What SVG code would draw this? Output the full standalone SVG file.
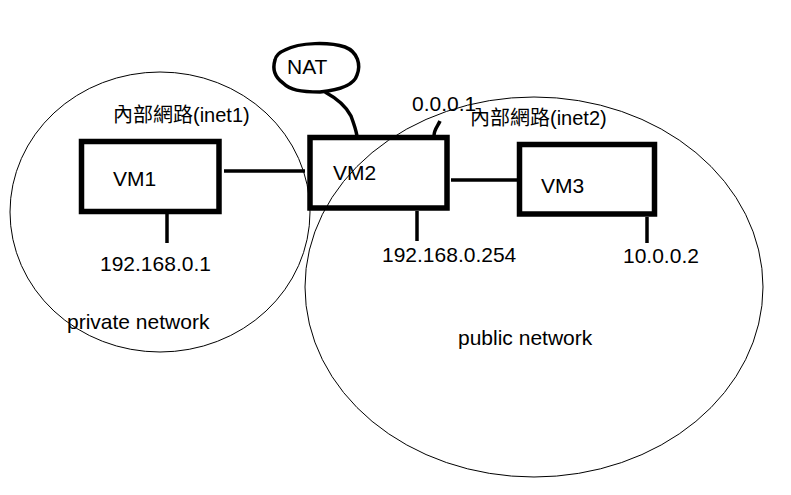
<svg xmlns="http://www.w3.org/2000/svg" width="791" height="495" viewBox="0 0 791 495">
<style>
text{font-family:"Liberation Sans","Noto Sans CJK TC",sans-serif;font-size:21px;fill:#000}
.net{fill:none;stroke:#000;stroke-width:1}
.box{fill:none;stroke:#000;stroke-width:5.5}
.wire{stroke:#000;stroke-width:3.5;fill:none}
</style>
<rect width="791" height="495" fill="#fff"/>
<g id="private-network">
<ellipse class="net" cx="160" cy="212" rx="150" ry="140"/>
<text x="113" y="122" style="font-size:20px">內部網路(inet1)</text>
<text x="67" y="329">private network</text>
</g>
<g id="public-network">
<ellipse class="net" cx="534" cy="287" rx="229" ry="190"/>
<text x="470" y="125" style="font-size:20px">內部網路(inet2)</text>
<text x="458" y="345">public network</text>
</g>
<g id="connectors">
<line class="wire" x1="224" y1="171" x2="305" y2="171"/>
<line class="wire" x1="451" y1="180" x2="517" y2="180"/>
<line class="wire" x1="167" y1="214" x2="167" y2="243"/>
<line class="wire" x1="417" y1="211" x2="417" y2="241"/>
<line class="wire" x1="647" y1="217" x2="647" y2="243"/>
<path class="wire" d="M325 92 C336 98 346 106 351 116 C354 124 356 130 357 136"/>
<path class="wire" d="M440 121 C438 126 434 129 434 136"/>
</g>
<g id="VM1">
<rect class="box" x="81.5" y="141.5" width="137.5" height="70"/>
<text x="113" y="186">VM1</text>
</g>
<g id="VM2">
<rect class="box" x="310" y="137.5" width="137" height="70.5"/>
<text x="333" y="180">VM2</text>
</g>
<g id="VM3">
<rect class="box" x="519.5" y="144.5" width="135" height="69.5"/>
<text x="541" y="193">VM3</text>
</g>
<g id="NAT">
<path d="M285 50 C300 42 330 42 345 47 C358 52 361 65 357 75 C354 85 340 90 320 92 C300 92 290 90 283 83 C276 78 272 70 275 60 C276 55 280 52 285 50 Z" fill="none" stroke="#000" stroke-width="3.5"/>
<text x="287" y="74">NAT</text>
</g>
<g id="labels">
<text x="100" y="271">192.168.0.1</text>
<text x="382" y="262">192.168.0.254</text>
<text x="623" y="263">10.0.0.2</text>
<text x="412" y="111">0.0.0.1</text>
</g>
</svg>
